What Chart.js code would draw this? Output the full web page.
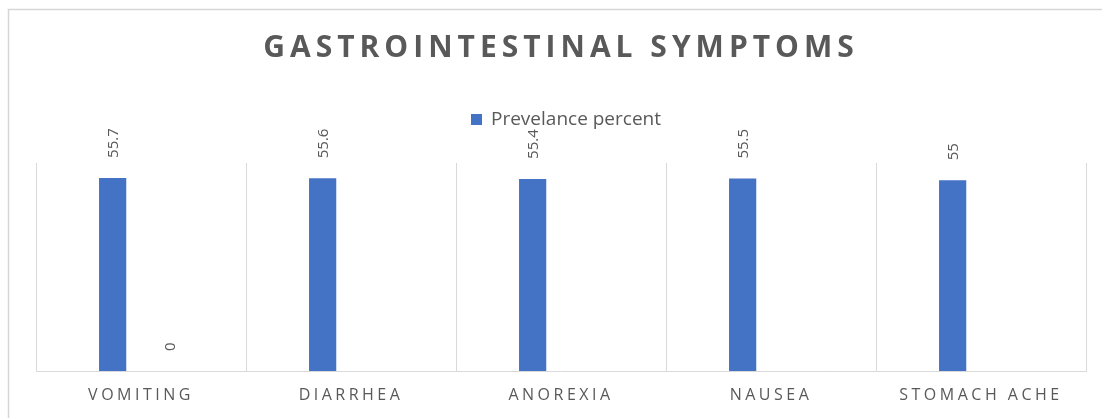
<!DOCTYPE html>
<html>
<head>
<meta charset="utf-8">
<script src="https://cdn.jsdelivr.net/npm/chart.js@4"></script>
<style>
  html, body { margin: 0; padding: 0; background: #fff; }
  #wrap { position: relative; width: 1102px; height: 418px; }
</style>
</head>
<body>
<div id="wrap"><canvas id="giChart" width="1102" height="418"></canvas></div>
<script>
// 데이터
const categories = ["VOMITING", "DIARRHEA", "ANOREXIA", "NAUSEA", "STOMACH ACHE"];
const prevalence = [55.7, 55.6, 55.4, 55.5, 55];
const secondSeries = [0, null, null, null, null];
const chartTitle = "GASTROINTESTINAL SYMPTOMS";
const seriesLabel = "Prevelance percent";

const TEXT_GRAY = "#595959";
const GRID_GRAY = "#d9d9d9";
const BAR_BLUE = "#4472C4";

// 프레임, 제목, 범례, x 라벨, 값 라벨 그리기
const decorPlugin = {
  id: "decor",
  beforeDraw(chart) {
    const ctx = chart.ctx;
    ctx.save();
    ctx.strokeStyle = "#d6d6d6";
    ctx.lineWidth = 1.5;
    ctx.beginPath();
    ctx.moveTo(8.5, chart.height);
    ctx.lineTo(8.5, 9.5);
    ctx.lineTo(chart.width, 9.5);
    ctx.stroke();

    // 제목
    ctx.fillStyle = TEXT_GRAY;
    ctx.font = "bold 30px 'Open Sans'";
    ctx.letterSpacing = "5px";
    ctx.textAlign = "center";
    ctx.textBaseline = "middle";
    ctx.fillText(chartTitle, 561, 48);

    // 범례 (첫 번째 데이터셋만)
    const ds = chart.data.datasets[0];
    ctx.letterSpacing = "0px";
    ctx.fillStyle = ds.backgroundColor;
    ctx.fillRect(471, 114, 11, 11);
    ctx.fillStyle = TEXT_GRAY;
    ctx.font = "19px 'Open Sans'";
    ctx.textAlign = "left";
    ctx.fillText(ds.label, 491, 120);
    ctx.restore();
  },
  afterDraw(chart) {
    const ctx = chart.ctx;
    const xScale = chart.scales.x;
    ctx.save();
    // x 라벨 (자간 넓게)
    ctx.fillStyle = TEXT_GRAY;
    ctx.font = "16px 'Open Sans'";
    ctx.letterSpacing = "3.5px";
    ctx.textAlign = "center";
    ctx.textBaseline = "middle";
    categories.forEach((c, i) => {
      ctx.fillText(c, xScale.getPixelForTick(i), chart.chartArea.bottom + 24);
    });

    // 값 라벨 (세로 회전)
    ctx.letterSpacing = "0px";
    ctx.font = "15px 'Open Sans'";
    chart.data.datasets.forEach((ds, di) => {
      const meta = chart.getDatasetMeta(di);
      meta.data.forEach((bar, i) => {
        const v = ds.data[i];
        if (v === null || v === undefined) return;
        ctx.save();
        ctx.translate(bar.x + 1.5, bar.y - 20);
        ctx.rotate(-Math.PI / 2);
        ctx.textAlign = "left";
        ctx.textBaseline = "middle";
        ctx.fillText(String(v), 0, 0);
        ctx.restore();
      });
    });
    ctx.restore();
  }
};

const ctx = document.getElementById("giChart").getContext("2d");
const giChart = new Chart(ctx, {
  type: "bar",
  data: {
    labels: categories,
    datasets: [
      {
        label: seriesLabel,
        data: prevalence,
        backgroundColor: BAR_BLUE,
        categoryPercentage: 0.54,
        barPercentage: 0.48
      },
      {
        label: "",
        data: secondSeries,
        backgroundColor: "#ED7D31",
        categoryPercentage: 0.54,
        barPercentage: 0.48
      }
    ]
  },
  options: {
    responsive: false,
    animation: false,
    devicePixelRatio: 1,
    layout: { padding: { left: 36, right: 16, top: 163, bottom: 47 } },
    plugins: {
      title: { display: false },
      tooltip: { enabled: false },
      legend: { display: false }
    },
    scales: {
      x: {
        offset: true,
        grid: { display: true, offset: true, color: GRID_GRAY, drawTicks: false, lineWidth: 1 },
        border: { display: true, color: GRID_GRAY, width: 1 },
        ticks: { display: false }
      },
      y: {
        display: false,
        min: 0,
        max: 60
      }
    }
  },
  plugins: [decorPlugin]
});
</script>
</body>
</html>
